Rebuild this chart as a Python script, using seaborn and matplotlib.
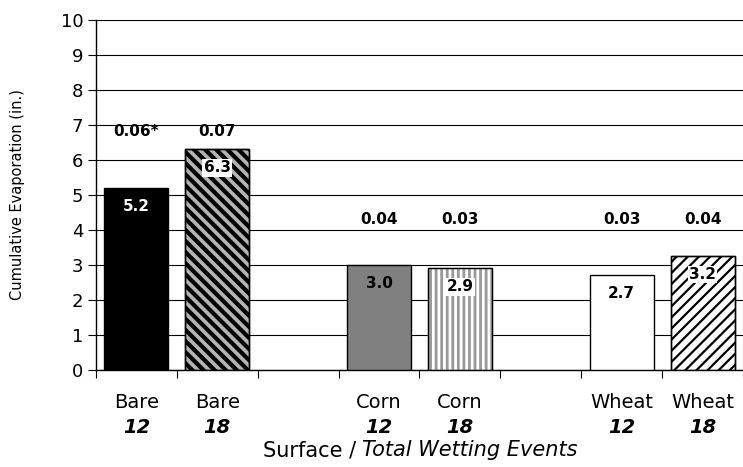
import numpy as np
import pandas as pd
import seaborn as sns
import matplotlib.pyplot as plt
from matplotlib.patches import Rectangle

# data
surface = ["Bare", "Bare", "Corn", "Corn", "Wheat", "Wheat"]
events = ["12", "18", "12", "18", "12", "18"]
evaporation = [5.2, 6.3, 3.0, 2.9, 2.7, 3.25]
evap_labels = ["5.2", "6.3", "3.0", "2.9", "2.7", "3.2"]
rate_labels = ["0.06*", "0.07", "0.04", "0.03", "0.03", "0.04"]

slots = ["Bare 12", "Bare 18", "gap1", "Corn 12", "Corn 18", "gap2", "Wheat 12", "Wheat 18"]

df = pd.DataFrame({"surface": surface, "events": events, "evap": evaporation,
                   "label": evap_labels, "rate": rate_labels})
df["slot"] = df["surface"] + " " + df["events"]

sns.set_style("white")
plt.rcParams["font.family"] = ["DejaVu Sans"]
plt.rcParams.update({"text.color": "black", "axes.labelcolor": "black",
                     "xtick.color": "black", "ytick.color": "black"})

fig = plt.figure(figsize=(7.43, 4.67), dpi=100)
ax = fig.add_axes([0.129, 0.2077, 0.871, 0.7495])

sns.barplot(data=df, x="slot", y="evap", order=slots, width=0.79,
            color="white", edgecolor="black", linewidth=1, ax=ax, zorder=3,
            errorbar=None)

# per-bar look: face, hatch, hatch colour, hatch width, label colour, white box
styles = {
    "Bare 12": ("black", None, "black", 1.0, "white", False),
    "Bare 18": ("#b4b4b4", "\\\\\\", "black", 3.0, "black", True),
    "Corn 12": ("#808080", None, "black", 1.0, "black", False),
    "Corn 18": ("white", "|||", "#999999", 2.0, "black", True),
    "Wheat 12": ("white", None, "black", 1.0, "black", False),
    "Wheat 18": ("white", "///", "black", 1.6, "black", True),
}
rate_y = {"Bare": 6.8, "Corn": 4.3, "Wheat": 4.3}

for p in list(ax.patches):
    xc = p.get_x() + p.get_width() / 2
    slot = slots[int(round(xc))]
    row = df[df["slot"] == slot].iloc[0]
    fc, hatch, hc, hlw, tc, box = styles[slot]
    p.set_facecolor(fc)
    if hatch:
        p.set_hatch(hatch)
        p.set_edgecolor(hc)
        if hasattr(p, "set_hatch_linewidth"):
            p.set_hatch_linewidth(hlw)
        else:
            plt.rcParams["hatch.linewidth"] = hlw
        ax.add_patch(Rectangle((p.get_x(), 0), p.get_width(), p.get_height(),
                               fill=False, edgecolor="black", linewidth=1, zorder=4))
    h = p.get_height()
    ax.text(xc, h - 0.52, row["label"], ha="center", va="center", fontsize=11,
            fontweight="bold", color=tc, zorder=5,
            bbox=dict(facecolor="white", edgecolor="none", pad=1) if box else None)
    ax.text(xc, rate_y[row["surface"]], row["rate"], ha="center", va="center",
            fontsize=11, fontweight="bold", color="black", zorder=5)

    # two-line category label
    ax.annotate(row["surface"], xy=(xc, 0), xycoords=("data", "axes fraction"),
                xytext=(0, -38), textcoords="offset pixels", ha="center",
                va="baseline", fontsize=14)
    ax.annotate(row["events"], xy=(xc, 0), xycoords=("data", "axes fraction"),
                xytext=(0, -63), textcoords="offset pixels", ha="center",
                va="baseline", fontsize=14, fontweight="bold", fontstyle="italic")

ax.set_ylim(0, 10)
ax.set_xlim(-0.5, 7.5)
ax.set_yticks(range(0, 11))
ax.yaxis.grid(True, color="black", linewidth=0.8)
ax.set_axisbelow(True)
ax.tick_params(axis="y", direction="out", length=6, width=0.8, labelsize=13,
               left=True, pad=3, colors="black")
ax.set_xticks([])
ax.set_xticks(np.arange(-0.5, 8, 1), minor=True)
ax.tick_params(axis="x", which="minor", direction="out", length=6, width=0.8,
               bottom=True, colors="black")
ax.set_xlabel("")
ax.set_ylabel("Cumulative Evaporation (in.)", fontsize=10.5, color="black")
ax.yaxis.set_label_coords(-0.11, 0.5)

for side in ["top", "right"]:
    ax.spines[side].set_visible(False)
for side in ["left", "bottom"]:
    ax.spines[side].set_color("black")
    ax.spines[side].set_linewidth(1)

# x axis title with mixed styles, centred under the axes
renderer = fig.canvas.get_renderer()
y_title = 1 - 456 / 467
t1 = fig.text(0, y_title, "Surface /", fontsize=15, va="baseline")
t2 = fig.text(0, y_title, "Total Wetting Events", fontsize=15, fontstyle="italic",
              va="baseline")
w1 = t1.get_window_extent(renderer).width
w2 = t2.get_window_extent(renderer).width
gap = 6
left = 420 - (w1 + gap + w2) / 2
t1.set_x(left / 743)
t2.set_x((left + w1 + gap) / 743)

fig.savefig("out.png", dpi=100)
